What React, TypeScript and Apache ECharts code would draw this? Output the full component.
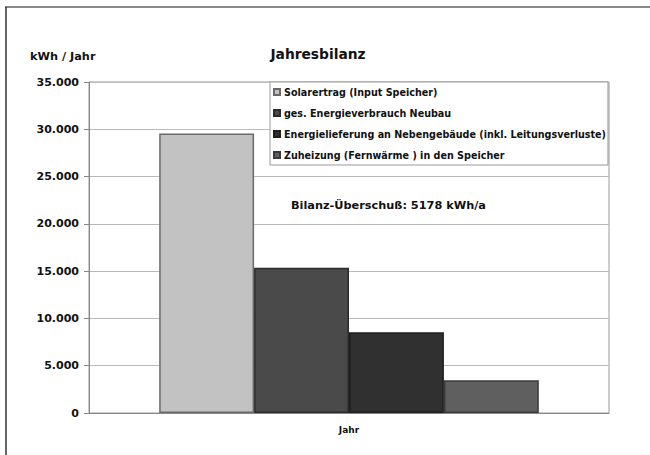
import React, { useEffect, useRef } from "react";
import * as echarts from "echarts";

const categories = ["Jahr"];
const seriesNames = [
  "Solarertrag (Input Speicher)",
  "ges. Energieverbrauch Neubau",
  "Energielieferung an Nebengebäude (inkl. Leitungsverluste)",
  "Zuheizung (Fernwärme ) in den Speicher",
];
const seriesValues = [29550, 15350, 8550, 3450];
const seriesColors = ["#c2c2c2", "#4a4a4a", "#303030", "#5f5f5f"];
const seriesBorders = ["#6a6a6a", "#2a2a2a", "#1e1e1e", "#3a3a3a"];
const yTicks = [0, 5000, 10000, 15000, 20000, 25000, 30000, 35000];
const titleText = "Jahresbilanz";
const yUnit = "kWh / Jahr";
const annotation = "Bilanz-Überschuß: 5178 kWh/a";

const FONT = '"DejaVu Sans", Arial, sans-serif';

function fmt(v: number): string {
  return String(v).replace(/\B(?=(\d{3})+(?!\d))/g, ".");
}

export default function App() {
  const ref = useRef<HTMLDivElement>(null);
  useEffect(() => {
    document.body.style.margin = "0";
    const chart = echarts.init(ref.current!, null, { renderer: "svg" });
    chart.setOption({
      animation: false,
      backgroundColor: "#ffffff",
      textStyle: { fontFamily: FONT },
      title: {
        text: titleText,
        left: 313,
        top: 42,
        textAlign: "center",
        textStyle: { fontFamily: FONT, fontSize: 13.8, fontWeight: "bold", color: "#111" },
      },
      legend: {
        orient: "vertical",
        left: 270,
        top: 82,
        data: seriesNames,
        icon: "rect",
        itemWidth: 6,
        itemHeight: 6,
        itemGap: 11,
        padding: [5, 2, 5, 3],
        backgroundColor: "#ffffff",
        borderColor: "#999",
        borderWidth: 1,
        textStyle: { fontFamily: FONT, fontSize: 9.6, fontWeight: "bold", color: "#111", padding: [0, 0, 0, -1] },
      },
      grid: {
        left: 89,
        top: 82,
        right: 41,
        bottom: 42,
        show: true,
        borderColor: "#999",
        borderWidth: 1,
        backgroundColor: "transparent",
      },
      xAxis: {
        type: "category",
        data: categories,
        axisLine: { lineStyle: { color: "#888", width: 1 } },
        axisTick: { show: false },
        axisLabel: { margin: 12, fontFamily: FONT, fontSize: 9, fontWeight: "bold", color: "#111" },
      },
      yAxis: {
        type: "value",
        min: 0,
        max: yTicks[yTicks.length - 1],
        interval: yTicks[1] - yTicks[0],
        axisLine: { show: true, lineStyle: { color: "#888" } },
        axisTick: { show: true, length: 5, lineStyle: { color: "#888" } },
        splitLine: { lineStyle: { color: "#bbb", width: 1 } },
        axisLabel: {
          margin: 10,
          fontFamily: FONT,
          fontSize: 11,
          fontWeight: "bold",
          color: "#111",
          formatter: (v: number) => fmt(v),
        },
      },
      series: seriesNames.map((name, i) => ({
        name,
        type: "bar",
        data: [seriesValues[i]],
        barGap: "0%",
        barCategoryGap: "27%",
        itemStyle: {
          color: seriesColors[i],
          borderColor: seriesBorders[i],
          borderWidth: 1.5,
        },
      })),
      graphic: [
        { type: "line", shape: { x1: 5, y1: 7, x2: 650, y2: 7 }, style: { stroke: "#888", lineWidth: 2 } },
        { type: "line", shape: { x1: 6, y1: 7, x2: 6, y2: 455 }, style: { stroke: "#333", lineWidth: 1.5 } },
        {
          type: "text",
          left: 30,
          top: 51,
          style: { text: yUnit, fontFamily: FONT, fontSize: 11.3, fontWeight: "bold", fill: "#111" },
        },
        {
          type: "text",
          left: 291,
          top: 200,
          style: { text: annotation, fontFamily: FONT, fontSize: 11.3, fontWeight: "bold", fill: "#111" },
        },
      ],
    });
    return () => chart.dispose();
  }, []);
  return (
    <div
      ref={ref}
      style={{ position: "absolute", left: 0, top: 0, width: 650, height: 455 }}
    />
  );
}
